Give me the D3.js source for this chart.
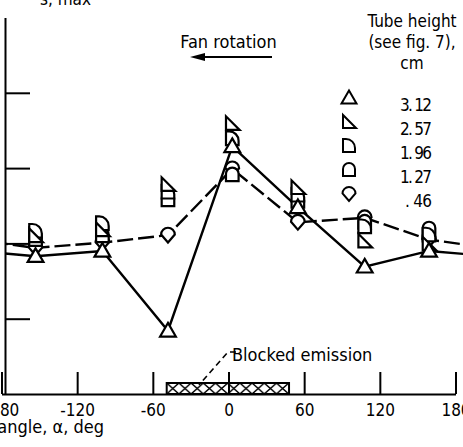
<!DOCTYPE html>
<html><head><meta charset="utf-8">
<script src="https://cdn.jsdelivr.net/npm/d3@7"></script>
<style>
html,body{margin:0;padding:0;background:#fff;}
text{font-family:"DejaVu Sans Condensed","DejaVu Sans",sans-serif;fill:#000;}
</style></head>
<body>
<script>
// ---- data ----
const angles = [-153, -100, -48, 3, 55, 108, 159];           // tube positions, deg
const tubeHeights = ["3. 12", "2. 57", "1. 96", "1. 27", ". 46"]; // cm
const h312 = [1.83, 1.90, 0.84, 3.29, 2.48, 1.69, 1.90];
const h257 = [2.10, 2.18, 2.78, 3.59, 2.74, 2.03, 1.99];
const h196 = [2.16, 2.26, 2.68, 3.39, 2.64, 2.22, 2.11];
const h127 = [2.05, 2.10, 2.58, 2.91, 2.56, 2.28, 2.19];
const h046 = [1.94, 2.01, 2.11, 2.99, 2.28, 2.34, 2.05];
const xTicks = [-180, -120, -60, 0, 60, 120, 180];
const yTicks = [1, 2, 3, 4];
const blocked = [-49, 48];

const W = 463, H = 447;
const svg = d3.select("body").append("svg").attr("width", W).attr("height", H);

const x = d3.scaleLinear().domain([-180, 180]).range([1.5, 455.5]);
const y = d3.scaleLinear().domain([0, 5]).range([394, 17.5]);
const axisX = 5;

const defs = svg.append("defs");
defs.append("clipPath").attr("id", "plotclip").append("rect")
  .attr("x", axisX).attr("y", 0).attr("width", W - axisX).attr("height", 394);
const pat = defs.append("pattern").attr("id", "hatch").attr("patternUnits", "userSpaceOnUse")
  .attr("x", x(blocked[0])).attr("y", 383).attr("width", 12.2).attr("height", 11);
pat.append("path").attr("d", "M0,0 L12.2,11 M12.2,0 L0,11").attr("stroke", "#000").attr("stroke-width", 1.4);

// ---- blocked emission region ----
svg.append("rect").attr("x", x(blocked[0])).attr("y", 383)
  .attr("width", x(blocked[1]) - x(blocked[0])).attr("height", 11)
  .attr("fill", "url(#hatch)").attr("stroke", "#000").attr("stroke-width", 2);

// ---- x axis ----
const gx = svg.append("g").attr("transform", "translate(0,394)")
  .call(d3.axisBottom(x).tickValues(xTicks).tickSizeInner(-22).tickSizeOuter(0).tickPadding(10)
    .tickFormat(d => d));
gx.select(".domain").attr("stroke-width", 2);
gx.selectAll(".tick line").attr("stroke-width", 2);
gx.selectAll("text").attr("font-size", 17).attr("font-family", null);

// ---- y axis ----
const gy = svg.append("g").attr("transform", `translate(${axisX},0)`)
  .call(d3.axisRight(y).tickValues(yTicks).tickSizeInner(25).tickSizeOuter(0).tickFormat(""));
gy.select(".domain").attr("stroke-width", 2);
gy.selectAll(".tick line").attr("stroke-width", 2);

// ---- lines (periodic, wrap across ±180) ----
function wrapped(vals) {
  const pts = [];
  [-360, 0, 360].forEach(off => angles.forEach((a, i) => pts.push([a + off, vals[i]])));
  return pts;
}
const line = d3.line().x(d => x(d[0])).y(d => y(d[1]));
const gl = svg.append("g").attr("clip-path", "url(#plotclip)");
gl.append("path").attr("d", line(wrapped(h312))).attr("fill", "none")
  .attr("stroke", "#000").attr("stroke-width", 2.4);
gl.append("path").attr("d", line(wrapped(h046))).attr("fill", "none")
  .attr("stroke", "#000").attr("stroke-width", 2.4).attr("stroke-dasharray", "16,5");

// ---- markers ----
const shapes = {
  "3. 12": "M0,-7.5 L7.5,5.5 L-7.5,5.5 Z",
  "2. 57": "M-6,-7 L-6,6 L7,6 Z",
  "1. 96": "M-6,6 L-6,-7 L-3,-7 A9,9 0 0 1 6,2 L6,6 Z",
  "1. 27": "M-6,6 L-6,-1 A6,6 0 0 1 6,-1 L6,6 Z",
  ". 46": "M-6.5,-0.5 A6.5,6.5 0 0 1 6.5,-0.5 L0,7 Z"
};
const seriesVals = {"3. 12": h312, "2. 57": h257, "1. 96": h196, "1. 27": h127, ". 46": h046};
const drawOrder = [". 46", "1. 27", "1. 96", "2. 57", "3. 12"];
const gm = svg.append("g");
drawOrder.forEach(k => {
  gm.selectAll(null).data(angles.map((a, i) => [a, seriesVals[k][i]])).enter()
    .append("path").attr("d", shapes[k])
    .attr("transform", d => `translate(${x(d[0])},${y(d[1])}) scale(1.05)`)
    .attr("fill", "#fff").attr("stroke", "#000").attr("stroke-width", 2.1);
});

// ---- legend ----
const lg = svg.append("g");
[["Tube height", 27], ["(see fig. 7),", 48], ["cm", 69]].forEach(t =>
  lg.append("text").attr("x", 412).attr("y", t[1]).attr("text-anchor", "middle")
    .attr("font-size", 17).text(t[0]));
tubeHeights.forEach((k, i) => {
  const yy = 98 + i * 24;
  lg.append("path").attr("d", shapes[k]).attr("transform", `translate(349,${yy})`)
    .attr("fill", "#fff").attr("stroke", "#000").attr("stroke-width", 2);
  lg.append("text").attr("x", 432).attr("y", yy + 12.5).attr("text-anchor", "end")
    .attr("font-size", 17).attr("textLength", k.startsWith(".") ? 27 : 32)
    .attr("lengthAdjust", "spacing").text(k);
});

// ---- annotations ----
svg.append("text").attr("x", 228.5).attr("y", 48).attr("text-anchor", "middle")
  .attr("font-size", 18).text("Fan rotation");
svg.append("line").attr("x1", 202).attr("x2", 272).attr("y1", 57).attr("y2", 57)
  .attr("stroke", "#000").attr("stroke-width", 2);
svg.append("path").attr("d", "M190,57 L205,53 L205,61 Z").attr("fill", "#000");

svg.append("text").attr("x", 232).attr("y", 361).attr("font-size", 18).text("Blocked emission");
svg.append("path").attr("d", "M236,352 L228,352 L199,385").attr("fill", "none")
  .attr("stroke", "#000").attr("stroke-width", 1.6).attr("stroke-dasharray", "6,4");

svg.append("text").attr("x", 40).attr("y", 5).attr("font-size", 17).text("s, max");
svg.append("text").attr("x", 104).attr("y", 433).attr("text-anchor", "end")
  .attr("font-size", 18).text("Circumferential angle, α, deg");
</script>
</body></html>
